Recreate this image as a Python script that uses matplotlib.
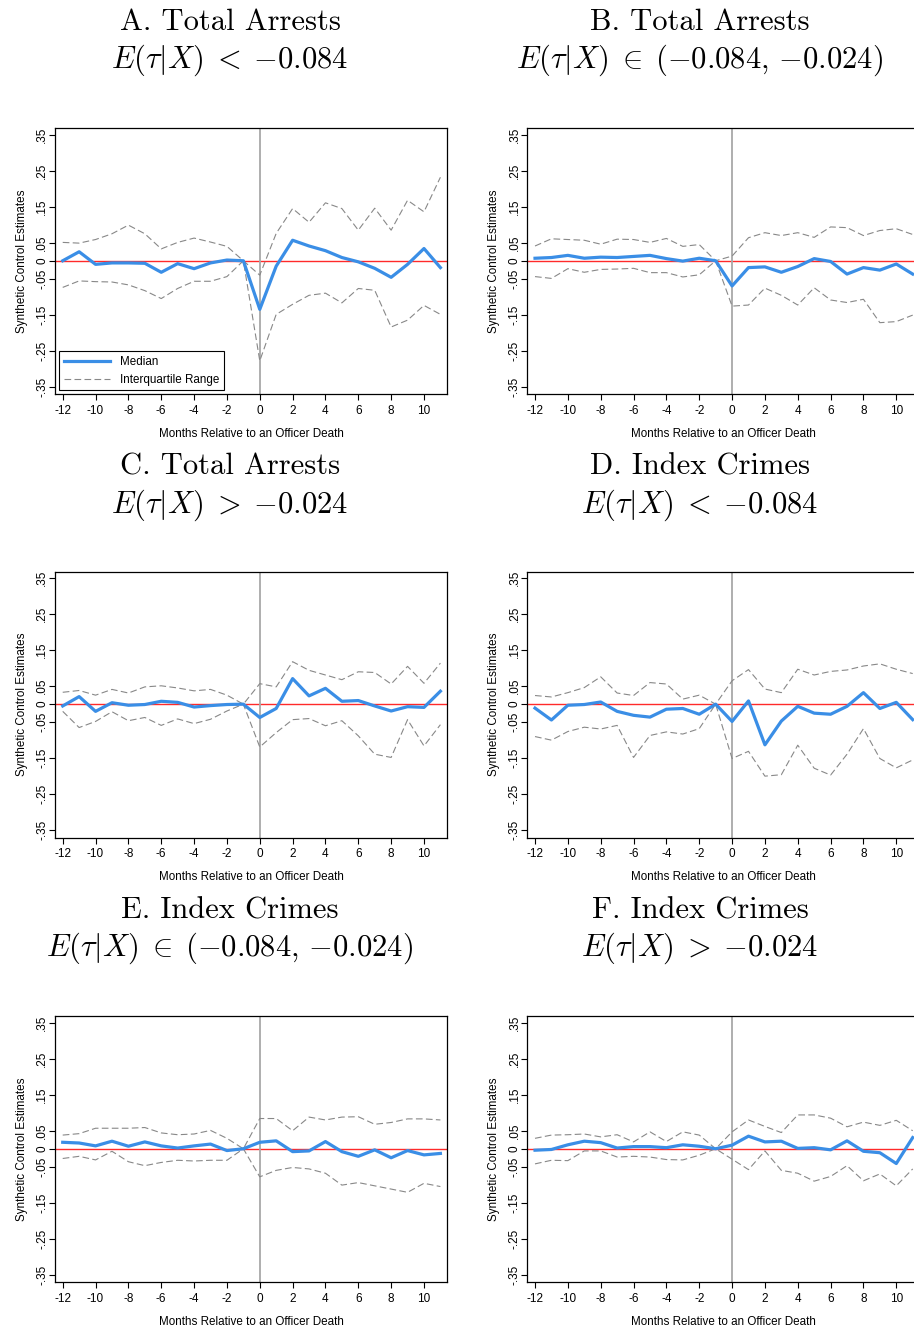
import matplotlib
matplotlib.use('Agg')
import matplotlib.pyplot as plt

plt.rcParams['font.family'] = ['Liberation Sans', 'DejaVu Sans']
plt.rcParams['mathtext.fontset'] = 'cm'
plt.rcParams['axes.unicode_minus'] = False

months = list(range(-12, 12))
y_ticks = [0.35, 0.25, 0.15, 0.05, 0, -0.05, -0.15, -0.25, -0.35]
y_tick_labels = ['.35', '.25', '.15', '.05', '0', '-.05', '-.15', '-.25', '-.35']
x_ticks = list(range(-12, 11, 2))

titles = [
    ('A. Total Arrests', r'$E(\tau|X)\;<\;{-0.084}$'),
    ('B. Total Arrests', r'$E(\tau|X)\;\in\;({-0.084},\,{-0.024})$'),
    ('C. Total Arrests', r'$E(\tau|X)\;>\;{-0.024}$'),
    ('D. Index Crimes', r'$E(\tau|X)\;<\;{-0.084}$'),
    ('E. Index Crimes', r'$E(\tau|X)\;\in\;({-0.084},\,{-0.024})$'),
    ('F. Index Crimes', r'$E(\tau|X)\;>\;{-0.024}$'),
]

# panel A
median_a = [0.0, 0.025, -0.010, -0.006, -0.006, -0.007, -0.032, -0.008, -0.022, -0.006, 0.002, 0.0,
            -0.135, -0.015, 0.057, 0.041, 0.028, 0.009, -0.003, -0.021, -0.046, -0.010, 0.034, -0.019]
upper_a = [0.051, 0.049, 0.059, 0.075, 0.099, 0.075, 0.033, 0.051, 0.063, 0.052, 0.040, 0.0,
           -0.040, 0.076, 0.145, 0.107, 0.161, 0.145, 0.085, 0.146, 0.085, 0.168, 0.136, 0.232]
lower_a = [-0.074, -0.056, -0.058, -0.059, -0.067, -0.083, -0.105, -0.077, -0.057, -0.057, -0.044, 0.0,
           -0.278, -0.149, -0.121, -0.096, -0.090, -0.117, -0.077, -0.082, -0.184, -0.165, -0.124, -0.149]

# panel B
median_b = [0.007, 0.009, 0.015, 0.007, 0.010, 0.009, 0.012, 0.015, 0.006, -0.001, 0.007, 0.0,
            -0.070, -0.019, -0.017, -0.032, -0.016, 0.006, -0.002, -0.037, -0.019, -0.026, -0.009, -0.037]
upper_b = [0.041, 0.061, 0.059, 0.057, 0.046, 0.060, 0.059, 0.051, 0.062, 0.040, 0.045, 0.0,
           0.013, 0.064, 0.078, 0.070, 0.078, 0.065, 0.094, 0.092, 0.070, 0.084, 0.089, 0.073]
lower_b = [-0.044, -0.049, -0.022, -0.032, -0.024, -0.023, -0.021, -0.033, -0.033, -0.045, -0.039, 0.0,
           -0.126, -0.123, -0.076, -0.096, -0.123, -0.075, -0.109, -0.116, -0.107, -0.172, -0.169, -0.151]

# panel C
median_c = [-0.005, 0.021, -0.020, 0.004, -0.003, -0.001, 0.008, 0.005, -0.008, -0.004, -0.001, 0.0,
            -0.037, -0.012, 0.071, 0.023, 0.044, 0.008, 0.010, -0.005, -0.019, -0.007, -0.009, 0.036]
upper_c = [0.033, 0.038, 0.025, 0.041, 0.031, 0.048, 0.051, 0.045, 0.037, 0.041, 0.025, 0.0,
           0.057, 0.048, 0.118, 0.094, 0.081, 0.068, 0.090, 0.088, 0.056, 0.105, 0.058, 0.114]
lower_c = [-0.020, -0.065, -0.048, -0.021, -0.046, -0.037, -0.059, -0.041, -0.054, -0.042, -0.019, 0.0,
           -0.119, -0.079, -0.043, -0.040, -0.060, -0.046, -0.088, -0.139, -0.148, -0.043, -0.116, -0.057]

# panel D
median_d = [-0.011, -0.044, -0.003, -0.001, 0.006, -0.020, -0.031, -0.036, -0.014, -0.012, -0.028, 0.0,
            -0.048, 0.009, -0.113, -0.047, -0.006, -0.025, -0.028, -0.006, 0.032, -0.012, 0.005, -0.043]
upper_d = [0.024, 0.020, 0.032, 0.046, 0.076, 0.031, 0.024, 0.060, 0.056, 0.014, 0.025, 0.0,
           0.065, 0.096, 0.042, 0.032, 0.097, 0.081, 0.091, 0.095, 0.106, 0.112, 0.097, 0.085]
lower_d = [-0.090, -0.100, -0.076, -0.064, -0.069, -0.059, -0.148, -0.087, -0.077, -0.083, -0.068, 0.0,
           -0.151, -0.131, -0.200, -0.196, -0.114, -0.178, -0.197, -0.139, -0.068, -0.151, -0.177, -0.155]

# panel E
median_e = [0.018, 0.016, 0.008, 0.021, 0.007, 0.019, 0.008, 0.002, 0.008, 0.013, -0.005, 0.0,
            0.018, 0.022, -0.008, -0.006, 0.020, -0.008, -0.021, -0.003, -0.025, -0.005, -0.017, -0.013]
upper_e = [0.038, 0.042, 0.057, 0.057, 0.057, 0.059, 0.044, 0.039, 0.041, 0.051, 0.029, 0.0,
           0.084, 0.084, 0.050, 0.088, 0.080, 0.088, 0.089, 0.068, 0.073, 0.083, 0.083, 0.080]
lower_e = [-0.027, -0.021, -0.031, -0.007, -0.036, -0.047, -0.038, -0.032, -0.034, -0.032, -0.032, 0.0,
           -0.078, -0.060, -0.052, -0.056, -0.068, -0.101, -0.094, -0.103, -0.112, -0.121, -0.096, -0.105]

# panel F
median_f = [-0.004, -0.002, 0.011, 0.021, 0.017, 0.002, 0.006, 0.006, 0.003, 0.011, 0.007, 0.0,
            0.010, 0.035, 0.019, 0.021, 0.001, 0.003, -0.003, 0.022, -0.007, -0.011, -0.041, 0.031]
upper_f = [0.029, 0.038, 0.039, 0.041, 0.033, 0.039, 0.019, 0.047, 0.020, 0.047, 0.038, 0.0,
           0.047, 0.080, 0.062, 0.045, 0.094, 0.094, 0.085, 0.061, 0.074, 0.065, 0.079, 0.050]
lower_f = [-0.042, -0.032, -0.033, -0.006, -0.006, -0.023, -0.021, -0.023, -0.030, -0.031, -0.018, 0.0,
           -0.029, -0.058, -0.006, -0.060, -0.068, -0.090, -0.077, -0.047, -0.089, -0.070, -0.103, -0.056]

panels = [
    (median_a, upper_a, lower_a),
    (median_b, upper_b, lower_b),
    (median_c, upper_c, lower_c),
    (median_d, upper_d, lower_d),
    (median_e, upper_e, lower_e),
    (median_f, upper_f, lower_f),
]

W, H = 914, 1328
fig = plt.figure(figsize=(W / 100, H / 100), dpi=100)

col_left = [55, 527.3]
col_center = [230, 700]
row_top = [128.3, 571.7, 1016.3]
row_title = [(22, 60), (467, 505), (911, 948)]
ax_w = 392.3
ax_h = 266

for i, (med, up, lo) in enumerate(panels):
    r, c = divmod(i, 2)
    ax = fig.add_axes([col_left[c] / W, 1 - (row_top[r] + ax_h) / H, ax_w / W, ax_h / H])
    ax.axhline(0, color='#ff2a2a', lw=1.0, zorder=1)
    ax.axvline(0, color='#a8a8a8', lw=1.3, zorder=1)
    ax.plot(months, up, color='#888888', lw=0.8, ls=(0, (6, 3)), zorder=2)
    ax.plot(months, lo, color='#888888', lw=0.8, ls=(0, (6, 3)), zorder=2,
            label='Interquartile Range')
    ax.plot(months, med, color='#3a8ee6', lw=2.3, zorder=3, label='Median')
    ax.set_xlim(-12.47, 11.42)
    ax.set_ylim(-0.371, 0.368)
    ax.set_xticks(x_ticks)
    ax.set_yticks(y_ticks)
    ax.set_yticklabels(y_tick_labels, rotation=90, va='center')
    ax.tick_params(labelsize=8.5, length=4, width=0.8, color='black')
    ax.tick_params(axis='y', pad=0.8)
    ax.set_xlabel('Months Relative to an Officer Death', fontsize=8.4, labelpad=8)
    ax.set_ylabel('Synthetic Control Estimates', fontsize=8.4, labelpad=6)
    for s in ax.spines.values():
        s.set_linewidth(0.9)
    if i == 0:
        h, l = ax.get_legend_handles_labels()
        ax.legend(h[::-1], l[::-1], loc='lower left', bbox_to_anchor=(0.01, 0.015),
                  borderaxespad=0, fontsize=8.4, handlelength=4.0, fancybox=False,
                  edgecolor='black', framealpha=1).get_frame().set_linewidth(0.8)
    t1, t2 = titles[i]
    fig.text(col_center[c] / W, 1 - row_title[r][0] / H, t1, ha='center', va='center',
             fontsize=22, family='cmr10')
    fig.text(col_center[c] / W, 1 - row_title[r][1] / H, t2, ha='center', va='center', fontsize=22)

fig.savefig('out.png', dpi=100)
